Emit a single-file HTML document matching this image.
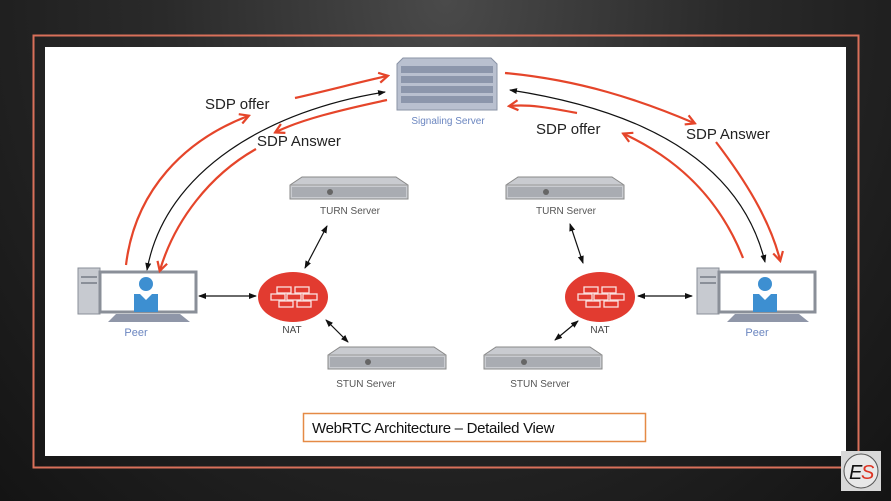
<!DOCTYPE html>
<html><head><meta charset="utf-8"><style>
html,body{margin:0;padding:0}
body{width:891px;height:501px;overflow:hidden;background:radial-gradient(ellipse at 50% 0%,#4a4a4a 0%,#2a2a2a 45%,#141414 100%);position:relative;font-family:"Liberation Sans",sans-serif}
</style></head><body>
<svg width="891" height="501" style="position:absolute;left:0;top:0" font-family="Liberation Sans, sans-serif">
<defs>
<marker id="ab" markerWidth="8" markerHeight="8" refX="7" refY="4" orient="auto-start-reverse" markerUnits="userSpaceOnUse"><path d="M0,1 L8,4 L0,7 z" fill="#111"/></marker>
<marker id="ar" markerWidth="12" markerHeight="12" refX="9" refY="6" orient="auto" markerUnits="userSpaceOnUse"><path d="M1,1 L10,6 L1,11" fill="none" stroke="#e5452a" stroke-width="2.2"/></marker>
<g id="srv"><path d="M0,8 L12,0 L106,0 L118,8 L118,22 L0,22 z" fill="#c9cbd0" stroke="#888" stroke-width="1"/><path d="M0,8 L118,8" stroke="#999"/><rect x="2" y="10" width="114" height="10" fill="#a9acb2"/><circle cx="40" cy="15" r="3" fill="#666"/></g>
<g id="peer"><rect x="0" y="0" width="22" height="46" fill="#c7cad0" stroke="#8a8f98"/><rect x="3" y="8" width="16" height="2" fill="#8a8f98"/><rect x="3" y="14" width="16" height="2" fill="#8a8f98"/><rect x="22" y="4" width="96" height="40" fill="#fff" stroke="#8a8f98" stroke-width="3"/><circle cx="68" cy="16" r="7" fill="#3d8fd1"/><path d="M56,26 L62,26 L68,32 L74,26 L80,26 L80,44 L56,44 z" fill="#3d8fd1"/><path d="M38,46 L102,46 L112,54 L30,54 z" fill="#8f96a8"/></g>
<g id="nat"><ellipse rx="35" ry="25" fill="#e23b30"/><g fill="none" stroke="#fff" stroke-width="1.3" opacity="0.85"><rect x="-16" y="-10" width="14" height="6"/><rect x="2" y="-10" width="14" height="6"/><rect x="-22" y="-3" width="14" height="6"/><rect x="-6" y="-3" width="14" height="6"/><rect x="10" y="-3" width="14" height="6"/><rect x="-14" y="4" width="14" height="6"/><rect x="4" y="4" width="14" height="6"/></g></g>
</defs>
<rect x="33.5" y="35.5" width="825" height="432" fill="none" stroke="#d9705a" stroke-width="2"/>
<rect x="45" y="47" width="801" height="409" fill="#fff"/>
<g transform="translate(397,58)"><path d="M6,0 L94,0 L100,6 L100,52 L0,52 L0,6 z" fill="#b9c0cf" stroke="#8a93a6"/>
<g fill="#8c96ab"><rect x="4" y="8" width="92" height="7"/><rect x="4" y="18" width="92" height="7"/><rect x="4" y="28" width="92" height="7"/><rect x="4" y="38" width="92" height="7"/></g></g>
<text x="448" y="124" font-size="10" fill="#6b86c0" text-anchor="middle">Signaling Server</text>
<use href="#srv" x="290" y="177"/><text x="350" y="214" font-size="10" fill="#555" text-anchor="middle">TURN Server</text>
<use href="#srv" x="328" y="347"/><text x="366" y="387" font-size="10" fill="#555" text-anchor="middle">STUN Server</text>
<use href="#srv" x="506" y="177"/><text x="566" y="214" font-size="10" fill="#555" text-anchor="middle">TURN Server</text>
<use href="#srv" x="484" y="347"/><text x="540" y="387" font-size="10" fill="#555" text-anchor="middle">STUN Server</text>
<use href="#nat" x="293" y="297"/><text x="292" y="333" font-size="10" fill="#444" text-anchor="middle">NAT</text>
<use href="#nat" x="600" y="297"/><text x="600" y="333" font-size="10" fill="#444" text-anchor="middle">NAT</text>
<use href="#peer" x="78" y="268"/><text x="136" y="336" font-size="11" fill="#6b86c0" text-anchor="middle">Peer</text>
<use href="#peer" x="697" y="268"/><text x="757" y="336" font-size="11" fill="#6b86c0" text-anchor="middle">Peer</text>
<g stroke="#111" stroke-width="1.2" fill="none" marker-start="url(#ab)" marker-end="url(#ab)">
<line x1="199" y1="296" x2="256" y2="296"/>
<line x1="305" y1="268" x2="327" y2="226"/>
<line x1="326" y1="320" x2="348" y2="342"/>
<line x1="638" y1="296" x2="692" y2="296"/>
<line x1="583" y1="263" x2="570" y2="224"/>
<line x1="578" y1="321" x2="555" y2="340"/>
<path d="M510,90 C640,110 740,160 765,262"/>
</g>
<path d="M147,270 C165,170 270,110 385,92" stroke="#111" stroke-width="1.2" fill="none" marker-start="url(#ab)" marker-end="url(#ab)"/>
<g stroke="#e5452a" stroke-width="2.2" fill="none" marker-end="url(#ar)">
<path d="M126,265 C135,190 185,140 248,116"/>
<path d="M295,98 C330,90 360,82 387,76"/>
<path d="M387,100 C340,110 300,120 276,132"/>
<path d="M256,149 C210,175 175,220 160,270"/>
<path d="M505,73 C580,80 640,100 694,123"/>
<path d="M716,142 C745,180 770,220 780,260"/>
<path d="M743,258 C720,200 680,160 624,134"/>
<path d="M577,113 C550,108 530,104 510,106"/>
</g>
<g font-size="15" fill="#222">
<text x="205" y="109">SDP offer</text>
<text x="257" y="146">SDP Answer</text>
<text x="536" y="134">SDP offer</text>
<text x="686" y="139">SDP Answer</text>
</g>
<rect x="303.5" y="413.5" width="342" height="28" fill="#fff" stroke="#e58a45" stroke-width="1.5"/>
<text x="312" y="433" font-size="15" fill="#111" style="letter-spacing:-0.3px">WebRTC Architecture – Detailed View</text>
<rect x="841" y="451" width="40" height="40" fill="#d8d8d8"/>
<circle cx="861" cy="471" r="17" fill="#e8e8e8" stroke="#555" stroke-width="1"/>
<text x="849" y="479" font-size="20" font-style="italic" fill="#111">E</text><text x="861" y="479" font-size="20" font-style="italic" fill="#d32">S</text>
</svg>
</body></html>
